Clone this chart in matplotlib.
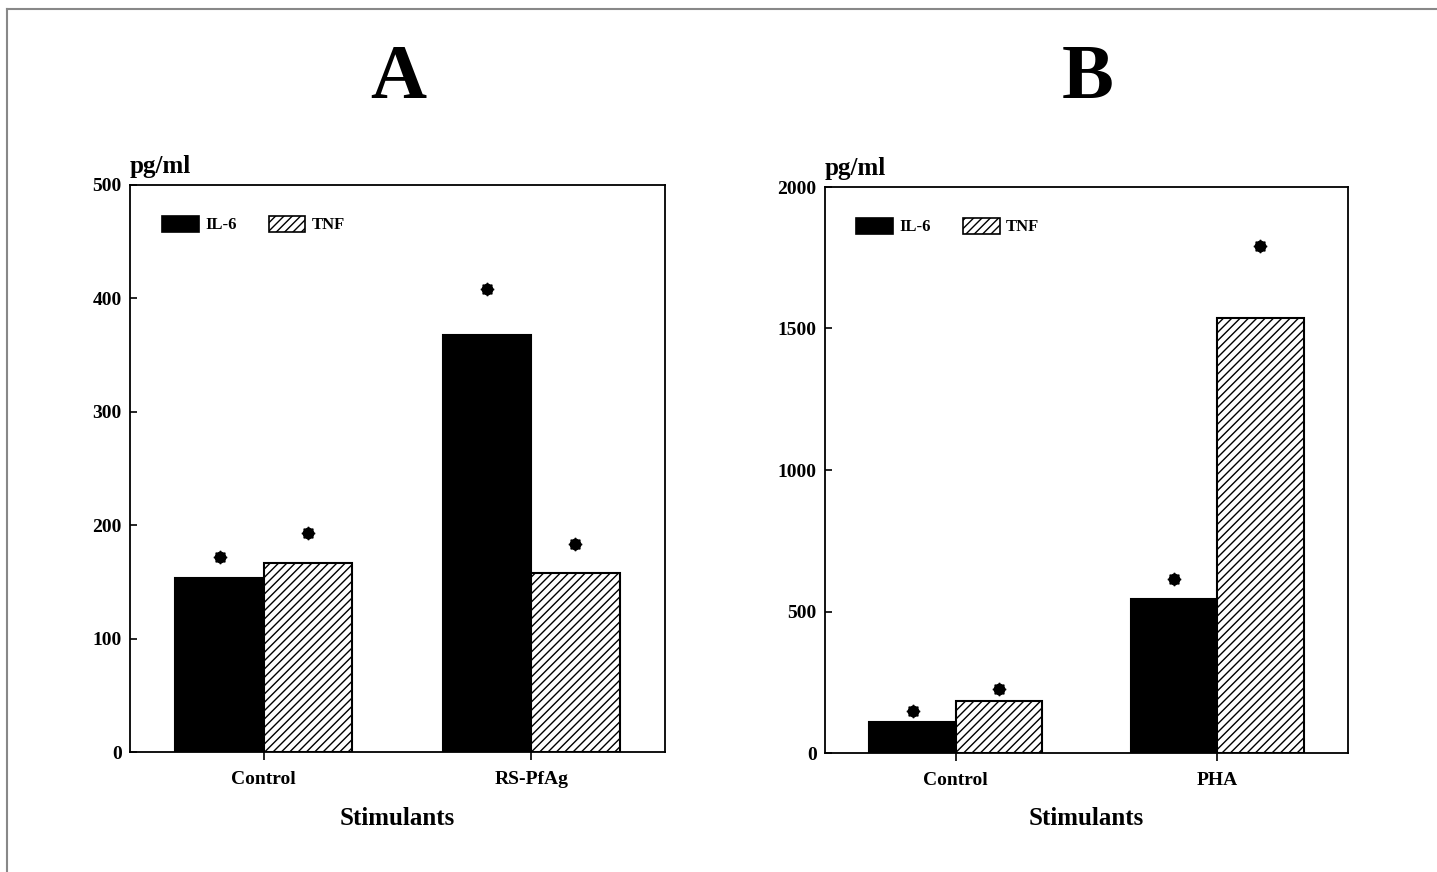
import matplotlib
matplotlib.use("Agg")
import matplotlib.pyplot as plt
from matplotlib.lines import Line2D
from matplotlib.patches import Patch
import numpy as np

plt.rcParams['font.family'] = ['Liberation Serif', 'DejaVu Serif']
plt.rcParams['font.weight'] = 'bold'
plt.rcParams['hatch.linewidth'] = 1.0

# Panel A data
cats_a = ['Control', 'RS-PfAg']
il6_a = [153, 368]
tnf_a = [167, 158]
star_il6_a = [172, 408]
star_tnf_a = [193, 183]

# Panel B data
cats_b = ['Control', 'PHA']
il6_b = [108, 544]
tnf_b = [184, 1537]
star_il6_b = [148, 615]
star_tnf_b = [226, 1791]

fig = plt.figure(figsize=(14.37, 8.72), dpi=100)

W, H = 1437, 872
ax_a = fig.add_axes([130 / W, 1 - 752 / H, 535 / W, 567 / H])
ax_b = fig.add_axes([825 / W, 1 - 753 / H, 523 / W, 566 / H])

width = 0.33


def panel(ax, cats, il6, tnf, s_il6, s_tnf, ymax, yticks):
    x = np.arange(len(cats))
    ax.bar(x - width / 2, il6, width, color='black', edgecolor='black', linewidth=1.5)
    ax.bar(x + width / 2, tnf, width, color='white', edgecolor='black', linewidth=1.5, hatch='////')
    # asterisks: round blob with small spikes
    for xs, ys in ((x - width / 2, s_il6), (x + width / 2, s_tnf)):
        ax.plot(xs, ys, linestyle='none', marker='o', color='black', markersize=7.5)
        ax.plot(xs, ys, linestyle='none', marker=(8, 1, 0), color='black', markersize=9.5)
    ax.set_xlim(-0.5, 1.5)
    ax.set_ylim(0, ymax)
    ax.set_yticks(yticks)
    ax.set_xticks(x)
    ax.set_xticklabels(cats, fontsize=14, fontweight='bold')
    for lab in ax.get_yticklabels():
        lab.set_fontsize(14)
        lab.set_fontweight('bold')
    ax.tick_params(axis='y', direction='in', length=5, width=1.2, pad=6)
    ax.tick_params(axis='x', direction='out', length=6, width=1.2, pad=8)
    for sp in ax.spines.values():
        sp.set_linewidth(1.3)
    ax.text(0, 1 + 12 / 567, 'pg/ml', transform=ax.transAxes, fontsize=18,
            fontweight='bold', ha='left', va='baseline')
    ax.text(0.5, -66 / 567, 'Stimulants', transform=ax.transAxes, fontsize=18,
            fontweight='bold', ha='center', va='center')
    handles = [Patch(facecolor='black', edgecolor='black', linewidth=1.2),
               Patch(facecolor='white', edgecolor='black', linewidth=1.2, hatch='////')]
    ax.legend(handles, ['IL-6', 'TNF'], ncol=2, loc='upper left',
              bbox_to_anchor=(0.06, 0.946), frameon=False, borderaxespad=0, borderpad=0,
              handlelength=2.2, handleheight=1.1, handletextpad=0.4, columnspacing=1.9,
              prop={'size': 12, 'weight': 'bold'})


panel(ax_a, cats_a, il6_a, tnf_a, star_il6_a, star_tnf_a, 500, [0, 100, 200, 300, 400, 500])
panel(ax_b, cats_b, il6_b, tnf_b, star_il6_b, star_tnf_b, 2000, [0, 500, 1000, 1500, 2000])

fig.text(398 / W, 1 - 80 / H, 'A', fontsize=56, fontweight='bold', ha='center', va='center')
fig.text(1088 / W, 1 - 80 / H, 'B', fontsize=56, fontweight='bold', ha='center', va='center')

# thin frame around the figure
fig.add_artist(Line2D([7 / W, 1], [1 - 9 / H, 1 - 9 / H], transform=fig.transFigure,
                      color='#888888', linewidth=1.5))
fig.add_artist(Line2D([7 / W, 7 / W], [0, 1 - 9 / H], transform=fig.transFigure,
                      color='#888888', linewidth=1.5))

fig.savefig('out.png', dpi=100)
